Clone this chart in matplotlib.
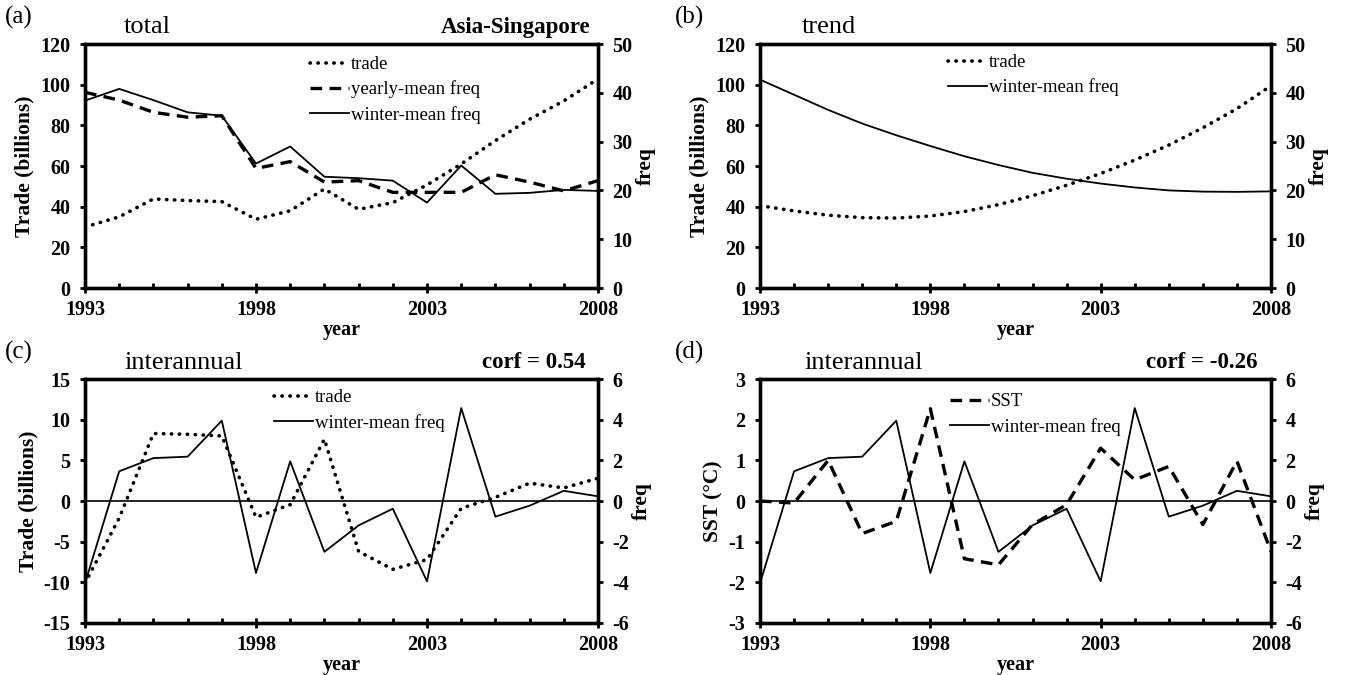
import matplotlib
matplotlib.use('Agg')
import matplotlib.pyplot as plt
from matplotlib.ticker import MultipleLocator

plt.rcParams['font.family'] = ['Liberation Serif', 'DejaVu Serif']
plt.rcParams['axes.unicode_minus'] = False

years = list(range(1993, 2009))

# (a) totals
trade_total = [30, 35, 43.8, 43, 42.5, 33.8, 38, 48.7, 38.7, 42, 50.7, 61, 72.5, 83, 92, 102.8]
yearly_freq = [40.1, 38.5, 36.0, 35.0, 35.3, 24.5, 25.9, 21.7, 22.0, 19.6, 19.6, 19.6, 23.2, 21.7, 19.9, 22.0]
winter_freq = [38.4, 40.8, 38.5, 36.0, 35.3, 25.5, 29.0, 22.8, 22.5, 22.0, 17.5, 25.1, 19.3, 19.5, 20.1, 19.9]

# (b) trends
trade_trend = [40.5, 37.9, 35.8, 34.6, 34.4, 35.4, 37.6, 41.0, 45.4, 50.5, 56.3, 62.9, 70.3, 78.8, 88.2, 99.5]
winter_trend = [42.7, 39.6, 36.5, 33.7, 31.3, 29.1, 27.0, 25.2, 23.6, 22.4, 21.4, 20.6, 20.0, 19.75, 19.7, 19.8]

# (c), (d) interannual
trade_inter = [-10.1, -2.1, 8.3, 8.2, 8.0, -2.0, -0.45, 7.6, -6.2, -8.4, -7.2, -0.9, 0.45, 2.2, 1.6, 2.8]
winter_inter = [-4.05, 1.46, 2.11, 2.18, 3.95, -3.54, 1.95, -2.5, -1.2, -0.38, -3.95, 4.57, -0.77, -0.23, 0.5, 0.23]
sst_inter = [0.0, -0.05, 1.0, -0.8, -0.5, 2.27, -1.42, -1.57, -0.58, -0.09, 1.3, 0.52, 0.85, -0.58, 0.98, -1.24]

W, H = 1351, 675
fig = plt.figure(figsize=(W / 100, H / 100), dpi=100)

DOT = dict(color='black', lw=2.6, linestyle=(0, (0.1, 2.1)), dash_capstyle='round')
DASH = dict(color='black', lw=2.4, linestyle=(0, (3.5, 2.2)))
SOLID = dict(color='black', lw=1.3)
TICKFONT = 14.5


def px(x, y):
    return x / W, 1 - y / H


def make_axes(rect, ylim, ystep, y2lim, y2step, ylabel):
    ax = fig.add_axes(rect)
    ax2 = ax.twinx()
    ax.set_xlim(1993, 2008)
    ax.set_ylim(*ylim)
    ax2.set_ylim(*y2lim)
    ax.yaxis.set_major_locator(MultipleLocator(ystep))
    ax2.yaxis.set_major_locator(MultipleLocator(y2step))
    ax.set_xticks([1993, 1998, 2003, 2008])
    ax.xaxis.set_minor_locator(MultipleLocator(1))
    for a in (ax, ax2):
        for s in a.spines.values():
            s.set_linewidth(2.4)
    ax.tick_params(axis='x', which='major', direction='inout', length=7, width=2, pad=5)
    ax.tick_params(axis='x', which='minor', direction='in', length=3.5, width=2)
    ax.tick_params(axis='y', direction='out', length=3.5, width=2, pad=7)
    ax2.tick_params(axis='y', direction='out', length=3.5, width=2, pad=7)
    for lab in ax.get_xticklabels() + ax.get_yticklabels() + ax2.get_yticklabels():
        lab.set_fontsize(TICKFONT)
        lab.set_fontweight('bold')
    ax.set_xlabel('year', fontsize=TICKFONT, fontweight='bold', labelpad=0)
    ax.set_ylabel(ylabel, fontsize=15.5, fontweight='bold', labelpad=4)
    ax2.set_ylabel('freq', fontsize=15.5, fontweight='bold', labelpad=2)
    return ax, ax2


def add_legend(ax2, handles, labels, x, y):
    ax2.legend(handles, labels, loc='upper left', bbox_to_anchor=px(x, y),
               bbox_transform=fig.transFigure, frameon=False, fontsize=13.5,
               handlelength=2.1, handletextpad=0.1, labelspacing=0.4,
               borderpad=0, borderaxespad=0)


def headers(letter, lx, ly, name, nx, ny, right=None, rx=None):
    fig.text(*px(lx, ly), letter, fontsize=18, ha='left', va='center')
    fig.text(*px(nx, ny), name, fontsize=19, ha='center', va='center')
    if right:
        fig.text(*px(rx, ny), right, fontsize=16.5, fontweight='bold', ha='right', va='center')


ra = [85 / W, 1 - 288 / H, 513 / W, 244 / H]
rb = [760 / W, 1 - 288 / H, 511 / W, 244 / H]
rc = [85 / W, 1 - 623 / H, 513 / W, 244 / H]
rd = [760 / W, 1 - 623 / H, 511 / W, 244 / H]

# (a)
ax, ax2 = make_axes(ra, (0, 120), 20, (0, 50), 10, 'Trade (billions)')
l1, = ax.plot(years, trade_total, **DOT)
l2, = ax2.plot(years, yearly_freq, **DASH)
l3, = ax2.plot(years, winter_freq, **SOLID)
add_legend(ax2, [l1, l2, l3], ['trade', 'yearly-mean freq', 'winter-mean freq'], 310, 56)
headers('(a)', 5, 17, 'total', 147, 27, 'Asia-Singapore', 590)

# (b)
ax, ax2 = make_axes(rb, (0, 120), 20, (0, 50), 10, 'Trade (billions)')
l1, = ax.plot(years, trade_trend, **DOT)
l3, = ax2.plot(years, winter_trend, **SOLID)
add_legend(ax2, [l1, l3], ['trade', 'winter-mean freq'], 948, 54)
headers('(b)', 675, 17, 'trend', 829, 27)

# (c)
ax, ax2 = make_axes(rc, (-15, 15), 5, (-6, 6), 2, 'Trade (billions)')
ax.axhline(0, color='black', lw=1.2)
l1, = ax.plot(years, trade_inter, **DOT)
l3, = ax2.plot(years, winter_inter, **SOLID)
add_legend(ax2, [l1, l3], ['trade', 'winter-mean freq'], 274, 389)
headers('(c)', 5, 352, 'interannual', 184, 363, 'corf = 0.54', 586)

# (d)
ax, ax2 = make_axes(rd, (-3, 3), 1, (-6, 6), 2, 'SST (°C)')
ax.axhline(0, color='black', lw=1.2)
l2, = ax.plot(years, sst_inter, **DASH)
l3, = ax2.plot(years, winter_inter, **SOLID)
add_legend(ax2, [l2, l3], ['SST', 'winter-mean freq'], 950, 393)
headers('(d)', 675, 352, 'interannual', 864, 363, 'corf = -0.26', 1258)

fig.savefig('out.png', dpi=100)
